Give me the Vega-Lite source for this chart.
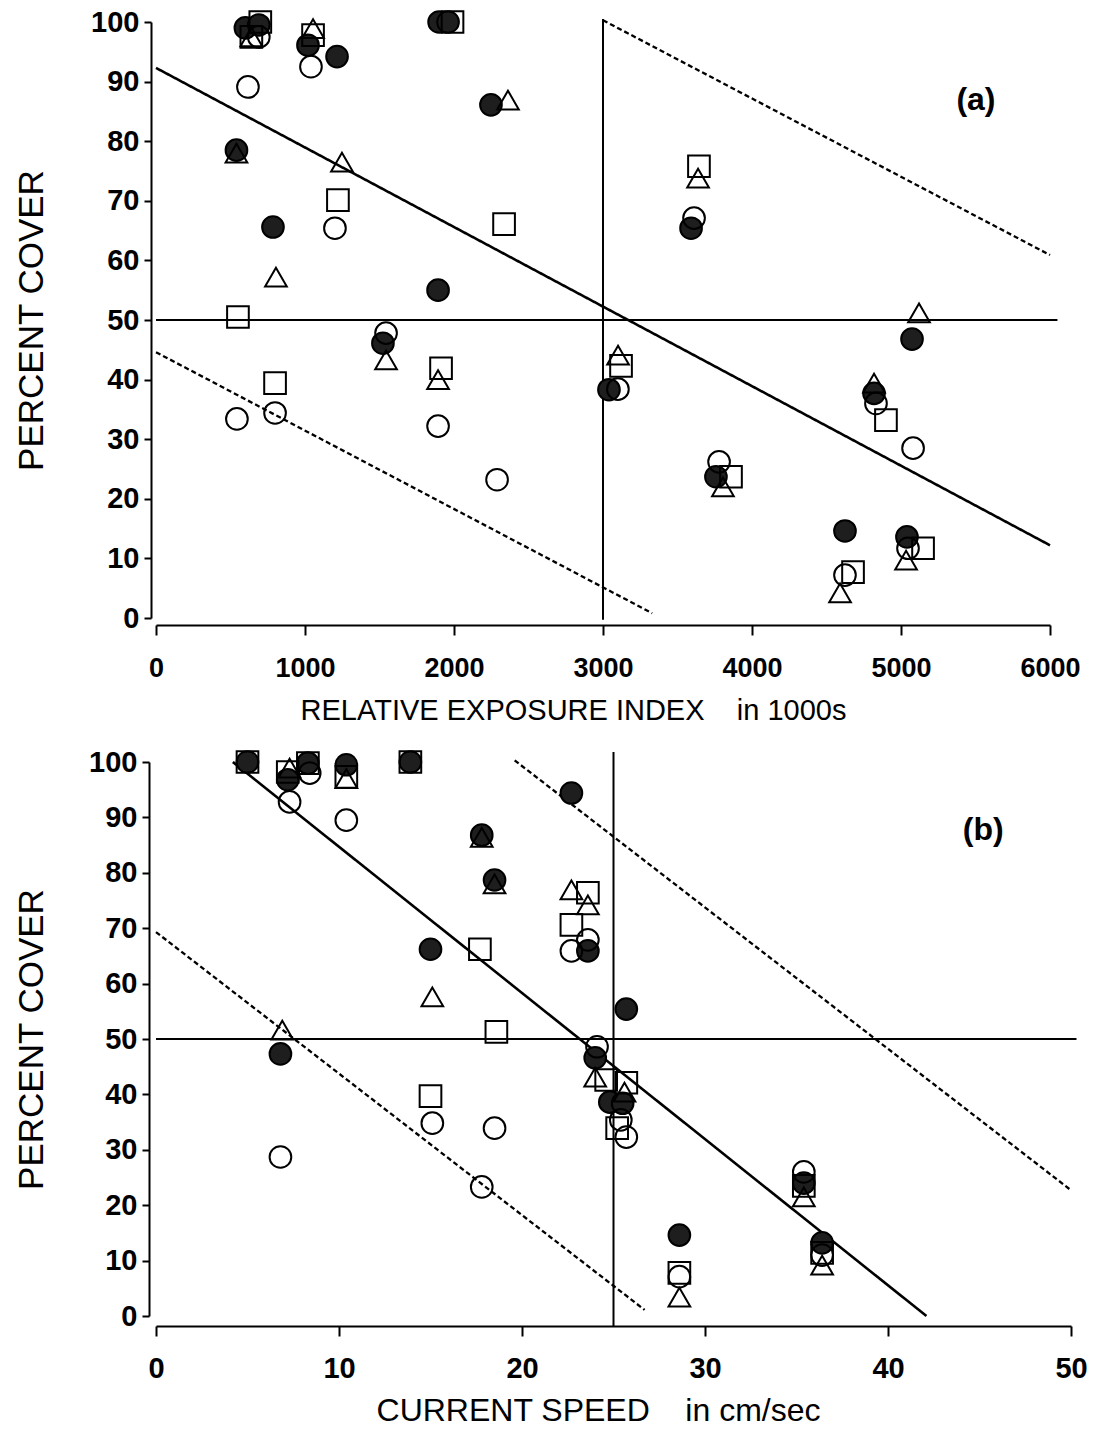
{
  "$schema": "https://vega.github.io/schema/vega-lite/v6.json",
  "background": "white",
  "padding": {"left": 13, "top": 7, "right": 5, "bottom": 5},
  "spacing": 144,
  "bounds": "flush",
  "config": {
    "view": {"stroke": null},
    "axis": {
      "grid": false, "domainColor": "black", "tickColor": "black", "labelColor": "black", "titleColor": "black",
      "domainWidth": 2, "tickWidth": 2, "labelFont": "Liberation Sans", "titleFont": "Liberation Sans",
      "labelFlush": false, "labelOverlap": false
    }
  },
  "datasets": {
    "ptsA": [
      {"x": 600, "y": 99, "g": "F"}, {"x": 690, "y": 99.5, "g": "F"}, {"x": 1020, "y": 96.1, "g": "F"}, {"x": 1215, "y": 94.2, "g": "F"},
      {"x": 1900, "y": 100, "g": "F"}, {"x": 1960, "y": 100, "g": "F"}, {"x": 2248, "y": 86.1, "g": "F"}, {"x": 540, "y": 78.5, "g": "F"},
      {"x": 785, "y": 65.6, "g": "F"}, {"x": 1893, "y": 55, "g": "F"}, {"x": 1523, "y": 46.1, "g": "F"}, {"x": 3040, "y": 38.3, "g": "F"},
      {"x": 3591, "y": 65.4, "g": "F"}, {"x": 5074, "y": 46.8, "g": "F"}, {"x": 4819, "y": 37.7, "g": "F"}, {"x": 3758, "y": 23.7, "g": "F"},
      {"x": 4624, "y": 14.6, "g": "F"}, {"x": 5040, "y": 13.6, "g": "F"},
      {"x": 690, "y": 97.5, "g": "O"}, {"x": 1040, "y": 92.5, "g": "O"}, {"x": 617, "y": 89.1, "g": "O"}, {"x": 1201, "y": 65.4, "g": "O"},
      {"x": 1544, "y": 47.8, "g": "O"}, {"x": 543, "y": 33.4, "g": "O"}, {"x": 799, "y": 34.4, "g": "O"}, {"x": 1893, "y": 32.2, "g": "O"},
      {"x": 2289, "y": 23.2, "g": "O"}, {"x": 3611, "y": 67.1, "g": "O"}, {"x": 3100, "y": 38.4, "g": "O"}, {"x": 4832, "y": 36, "g": "O"},
      {"x": 5081, "y": 28.5, "g": "O"}, {"x": 3779, "y": 26.2, "g": "O"}, {"x": 5047, "y": 11.7, "g": "O"}, {"x": 4624, "y": 7.2, "g": "O"},
      {"x": 700, "y": 100, "g": "S"}, {"x": 640, "y": 97.5, "g": "S"}, {"x": 1054, "y": 97.8, "g": "S"}, {"x": 1990, "y": 100, "g": "S"},
      {"x": 1221, "y": 70.1, "g": "S"}, {"x": 2336, "y": 66.1, "g": "S"}, {"x": 550, "y": 50.5, "g": "S"}, {"x": 1913, "y": 41.9, "g": "S"},
      {"x": 799, "y": 39.4, "g": "S"}, {"x": 3644, "y": 75.8, "g": "S"}, {"x": 3121, "y": 42.3, "g": "S"}, {"x": 4899, "y": 33.2, "g": "S"},
      {"x": 3859, "y": 23.7, "g": "S"}, {"x": 5148, "y": 11.7, "g": "S"}, {"x": 4678, "y": 7.7, "g": "S"},
      {"x": 640, "y": 97.5, "g": "T"}, {"x": 1054, "y": 98.9, "g": "T"}, {"x": 2362, "y": 86.9, "g": "T"}, {"x": 540, "y": 78, "g": "T"},
      {"x": 1248, "y": 76.5, "g": "T"}, {"x": 805, "y": 57.2, "g": "T"}, {"x": 1544, "y": 43.3, "g": "T"}, {"x": 1893, "y": 40, "g": "T"},
      {"x": 3638, "y": 73.8, "g": "T"}, {"x": 5121, "y": 51.2, "g": "T"}, {"x": 3101, "y": 44.1, "g": "T"}, {"x": 4819, "y": 39.4, "g": "T"},
      {"x": 3805, "y": 22, "g": "T"}, {"x": 5034, "y": 9.7, "g": "T"}, {"x": 4591, "y": 4.2, "g": "T"}
    ],
    "linesA": [
      {"x1": 0, "y1": 92.3, "x2": 6000, "y2": 12.2, "style": "fit"},
      {"x1": 3000, "y1": 100.3, "x2": 6000, "y2": 60.9, "style": "band"},
      {"x1": 0, "y1": 44.6, "x2": 3330, "y2": 0.8, "style": "band"},
      {"x1": 3000, "y1": -0.3, "x2": 3000, "y2": 100.5, "style": "ref"},
      {"x1": 0, "y1": 50, "x2": 6050, "y2": 50, "style": "ref"}
    ],
    "labA": [{"x": 5503, "y": 86.9, "label": "(a)"}],
    "ptsB": [
      {"x": 5, "y": 100, "g": "F"}, {"x": 7.2, "y": 96.8, "g": "F"}, {"x": 8.3, "y": 99.8, "g": "F"}, {"x": 10.4, "y": 99.5, "g": "F"},
      {"x": 13.9, "y": 100, "g": "F"}, {"x": 15.0, "y": 66.2, "g": "F"}, {"x": 6.8, "y": 47.3, "g": "F"}, {"x": 22.7, "y": 94.4, "g": "F"},
      {"x": 17.8, "y": 86.8, "g": "F"}, {"x": 18.5, "y": 78.7, "g": "F"}, {"x": 23.6, "y": 65.9, "g": "F"}, {"x": 25.7, "y": 55.4, "g": "F"},
      {"x": 24.0, "y": 46.6, "g": "F"}, {"x": 24.8, "y": 38.6, "g": "F"}, {"x": 25.5, "y": 38.4, "g": "F"}, {"x": 28.6, "y": 14.6, "g": "F"},
      {"x": 35.4, "y": 24, "g": "F"}, {"x": 36.4, "y": 13.2, "g": "F"},
      {"x": 7.3, "y": 92.8, "g": "O"}, {"x": 8.4, "y": 98, "g": "O"}, {"x": 10.4, "y": 89.5, "g": "O"}, {"x": 6.8, "y": 28.7, "g": "O"},
      {"x": 22.7, "y": 65.9, "g": "O"}, {"x": 23.6, "y": 67.9, "g": "O"}, {"x": 24.1, "y": 48.6, "g": "O"}, {"x": 15.1, "y": 34.8, "g": "O"},
      {"x": 18.5, "y": 33.9, "g": "O"}, {"x": 17.8, "y": 23.3, "g": "O"}, {"x": 25.4, "y": 35.4, "g": "O"}, {"x": 25.7, "y": 32.3, "g": "O"},
      {"x": 28.6, "y": 7.1, "g": "O"}, {"x": 35.4, "y": 26, "g": "O"}, {"x": 36.4, "y": 11, "g": "O"},
      {"x": 5, "y": 100, "g": "S"}, {"x": 7.2, "y": 98.2, "g": "S"}, {"x": 8.3, "y": 99.8, "g": "S"}, {"x": 10.4, "y": 97.3, "g": "S"},
      {"x": 13.9, "y": 100, "g": "S"}, {"x": 17.7, "y": 66.2, "g": "S"}, {"x": 18.6, "y": 51.3, "g": "S"}, {"x": 15.0, "y": 39.7, "g": "S"},
      {"x": 22.7, "y": 70.6, "g": "S"}, {"x": 23.6, "y": 76.4, "g": "S"}, {"x": 24.6, "y": 42.6, "g": "S"}, {"x": 25.7, "y": 42.1, "g": "S"},
      {"x": 25.2, "y": 33.9, "g": "S"}, {"x": 28.6, "y": 7.8, "g": "S"}, {"x": 35.4, "y": 23.5, "g": "S"}, {"x": 36.4, "y": 11.4, "g": "S"},
      {"x": 7.3, "y": 98.9, "g": "T"}, {"x": 10.4, "y": 97, "g": "T"}, {"x": 17.8, "y": 86.4, "g": "T"}, {"x": 18.5, "y": 78, "g": "T"},
      {"x": 15.1, "y": 57.6, "g": "T"}, {"x": 6.9, "y": 51.6, "g": "T"}, {"x": 22.7, "y": 76.9, "g": "T"}, {"x": 23.6, "y": 74.2, "g": "T"},
      {"x": 24.0, "y": 43.1, "g": "T"}, {"x": 25.6, "y": 40.4, "g": "T"}, {"x": 28.6, "y": 3.4, "g": "T"}, {"x": 35.4, "y": 21.5, "g": "T"},
      {"x": 36.4, "y": 9.2, "g": "T"}
    ],
    "linesB": [
      {"x1": 4.2, "y1": 100, "x2": 42.1, "y2": 0, "style": "fit"},
      {"x1": 19.6, "y1": 100.3, "x2": 50, "y2": 22.7, "style": "band"},
      {"x1": 0, "y1": 69.3, "x2": 26.7, "y2": 1.1, "style": "band"},
      {"x1": 25, "y1": -2, "x2": 25, "y2": 101.8, "style": "ref"},
      {"x1": 0, "y1": 50, "x2": 50.3, "y2": 50, "style": "ref"}
    ],
    "labB": [{"x": 45.2, "y": 87.7, "label": "(b)"}]
  },
  "vconcat": [
    {
      "width": 894,
      "height": 596,
      "layer": [
        {
          "data": {"name": "linesA"},
          "mark": {"type": "rule", "color": "black"},
          "encoding": {
            "x": {"field": "x1", "type": "quantitative",
              "scale": {"domain": [0, 6000], "nice": false, "zero": false},
              "axis": {"values": [0, 1000, 2000, 3000, 4000, 5000, 6000], "format": "d", "tickSize": 10, "offset": 7,
                "labelFontSize": 27, "labelFontWeight": "bold", "labelPadding": 20,
                "title": "RELATIVE EXPOSURE INDEX\u00a0\u00a0\u00a0\u00a0in 1000s", "titleFontSize": 29, "titleFontWeight": "normal", "titlePadding": 15, "titleX": 417}},
            "y": {"field": "y1", "type": "quantitative",
              "scale": {"domain": [0, 100], "nice": false, "zero": false},
              "axis": {"values": [0, 10, 20, 30, 40, 50, 60, 70, 80, 90, 100], "tickSize": 7, "offset": 5,
                "labelFontSize": 29, "labelFontWeight": "bold", "labelPadding": 5,
                "title": "PERCENT COVER", "titleFontSize": 35, "titleFontWeight": "normal", "titleX": -102}},
            "x2": {"field": "x2"},
            "y2": {"field": "y2"},
            "strokeDash": {"field": "style", "type": "nominal", "scale": {"domain": ["fit", "band", "ref"], "range": [[1, 0], [5, 3], [1, 0]]}, "legend": null},
            "strokeWidth": {"field": "style", "type": "nominal", "scale": {"domain": ["fit", "band", "ref"], "range": [2.6, 2, 2]}, "legend": null}
          }
        },
        {
          "data": {"name": "ptsA"},
          "mark": {"type": "point", "filled": true, "stroke": "black", "strokeWidth": 2, "size": 470, "opacity": 1},
          "encoding": {
            "x": {"field": "x", "type": "quantitative"},
            "y": {"field": "y", "type": "quantitative"},
            "shape": {"field": "g", "type": "nominal", "scale": {"domain": ["F", "O", "S", "T"], "range": ["circle", "circle", "square", "triangle-up"]}, "legend": null},
            "fill": {"field": "g", "type": "nominal", "scale": {"domain": ["F", "O", "S", "T"], "range": ["#1e1e1e", "rgba(0,0,0,0)", "rgba(0,0,0,0)", "rgba(0,0,0,0)"]}, "legend": null}
          }
        },
        {
          "data": {"name": "labA"},
          "mark": {"type": "text", "font": "Liberation Sans", "fontSize": 32, "fontWeight": "bold", "color": "black"},
          "encoding": {
            "x": {"field": "x", "type": "quantitative"},
            "y": {"field": "y", "type": "quantitative"},
            "text": {"field": "label"}
          }
        }
      ]
    },
    {
      "width": 915,
      "height": 554,
      "layer": [
        {
          "data": {"name": "linesB"},
          "mark": {"type": "rule", "color": "black"},
          "encoding": {
            "x": {"field": "x1", "type": "quantitative",
              "scale": {"domain": [0, 50], "nice": false, "zero": false},
              "axis": {"values": [0, 10, 20, 30, 40, 50], "tickSize": 10, "offset": 10,
                "labelFontSize": 29, "labelFontWeight": "bold", "labelPadding": 18,
                "title": "CURRENT SPEED\u00a0\u00a0\u00a0\u00a0in cm/sec", "titleFontSize": 32, "titleFontWeight": "normal", "titlePadding": 12, "titleX": 442}},
            "y": {"field": "y1", "type": "quantitative",
              "scale": {"domain": [0, 100], "nice": false, "zero": false},
              "axis": {"values": [0, 10, 20, 30, 40, 50, 60, 70, 80, 90, 100], "tickSize": 7, "offset": 7,
                "labelFontSize": 29, "labelFontWeight": "bold", "labelPadding": 5,
                "title": "PERCENT COVER", "titleFontSize": 35, "titleFontWeight": "normal", "titleX": -100}},
            "x2": {"field": "x2"},
            "y2": {"field": "y2"},
            "strokeDash": {"field": "style", "type": "nominal", "scale": {"domain": ["fit", "band", "ref"], "range": [[1, 0], [7, 2], [1, 0]]}, "legend": null},
            "strokeWidth": {"field": "style", "type": "nominal", "scale": {"domain": ["fit", "band", "ref"], "range": [2.6, 1.6, 2]}, "legend": null}
          }
        },
        {
          "data": {"name": "ptsB"},
          "mark": {"type": "point", "filled": true, "stroke": "black", "strokeWidth": 2, "size": 470, "opacity": 1},
          "encoding": {
            "x": {"field": "x", "type": "quantitative"},
            "y": {"field": "y", "type": "quantitative"},
            "shape": {"field": "g", "type": "nominal", "scale": {"domain": ["F", "O", "S", "T"], "range": ["circle", "circle", "square", "triangle-up"]}, "legend": null},
            "fill": {"field": "g", "type": "nominal", "scale": {"domain": ["F", "O", "S", "T"], "range": ["#1e1e1e", "rgba(0,0,0,0)", "rgba(0,0,0,0)", "rgba(0,0,0,0)"]}, "legend": null}
          }
        },
        {
          "data": {"name": "labB"},
          "mark": {"type": "text", "font": "Liberation Sans", "fontSize": 32, "fontWeight": "bold", "color": "black"},
          "encoding": {
            "x": {"field": "x", "type": "quantitative"},
            "y": {"field": "y", "type": "quantitative"},
            "text": {"field": "label"}
          }
        }
      ]
    }
  ]
}
